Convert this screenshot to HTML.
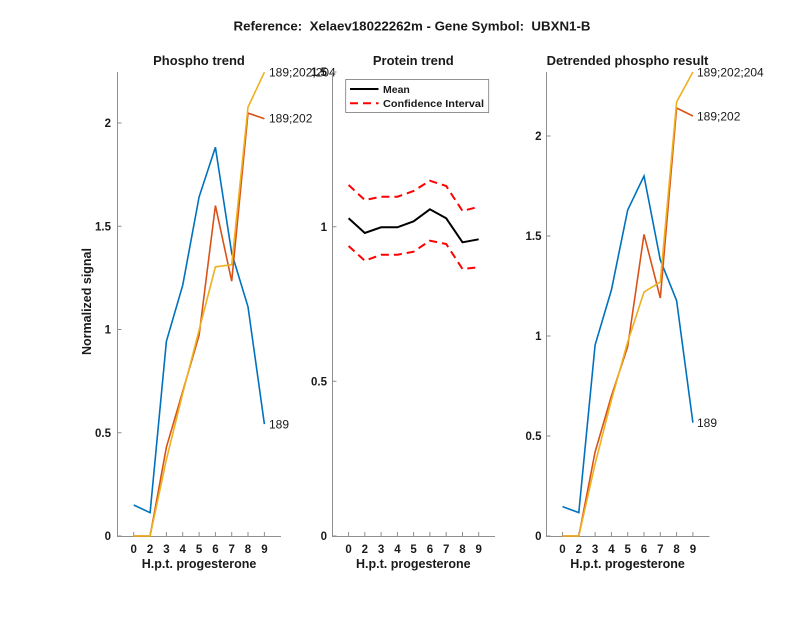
<!DOCTYPE html>
<html><head><meta charset="utf-8"><style>
html,body{margin:0;padding:0;background:#fff;}
svg{display:block;}
text{font-family:"Liberation Sans",Arial,sans-serif;fill:#1a1a1a;}
.b{font-weight:bold;}
.tk{font-size:11.5px;font-weight:bold;}
.ax{stroke:#8f8f8f;stroke-width:1;fill:none;}
.s{fill:none;stroke-width:1.6;stroke-linejoin:miter;}
.lb{font-size:12px;}
</style></head><body>
<svg width="800" height="618" viewBox="0 0 800 618" xmlns="http://www.w3.org/2000/svg">
<rect width="800" height="618" fill="#fff"/>
<text x="412" y="30.5" text-anchor="middle" class="b" font-size="13" xml:space="preserve" textLength="357" lengthAdjust="spacingAndGlyphs">Reference:  Xelaev18022262m - Gene Symbol:  UBXN1-B</text>

<!-- Panel 1 -->
<text x="199" y="65" text-anchor="middle" class="b" font-size="13">Phospho trend</text>
<path class="ax" d="M117.5,72 V536.5 H281"/>
<g class="ax">
<path d="M117.5,536 h4 M117.5,432.8 h4 M117.5,329.5 h4 M117.5,226.3 h4 M117.5,123 h4"/>
<path d="M133.7,536 v-4 M150.1,536 v-4 M166.4,536 v-4 M182.7,536 v-4 M199.1,536 v-4 M215.4,536 v-4 M231.7,536 v-4 M248,536 v-4 M264.4,536 v-4"/>
</g>
<g class="tk" text-anchor="end">
<text x="111" y="540">0</text><text x="111" y="437">0.5</text><text x="111" y="333.5">1</text><text x="111" y="230.5">1.5</text><text x="111" y="127">2</text>
</g>
<g class="tk" text-anchor="middle">
<text x="133.7" y="553">0</text><text x="150.1" y="553">2</text><text x="166.4" y="553">3</text><text x="182.7" y="553">4</text><text x="199.1" y="553">5</text><text x="215.4" y="553">6</text><text x="231.7" y="553">7</text><text x="248" y="553">8</text><text x="264.4" y="553">9</text>
</g>
<text x="199" y="568" text-anchor="middle" class="b" font-size="12.5">H.p.t. progesterone</text>
<text transform="translate(91,301.5) rotate(-90)" text-anchor="middle" class="b" font-size="12.5">Normalized signal</text>
<polyline class="s" stroke="#0072BD" points="133.7,505 150.1,512.7 166.4,341.3 182.7,285.3 199.1,196.9 215.4,147.2 231.7,253.1 248,306.8 264.4,424.1"/>
<polyline class="s" stroke="#D95319" points="133.7,536 150.1,536 166.4,447.2 182.7,391.5 199.1,335.3 215.4,205.6 231.7,281.2 248,113.1 264.4,118.7"/>
<polyline class="s" stroke="#EDB120" points="133.7,536 150.1,536 166.4,459.6 182.7,393.5 199.1,330.1 215.4,266.9 231.7,264.7 248,107.1 264.4,72.2"/>
<text class="lb" x="269" y="76.5">189;202;204</text>
<text class="lb" x="269" y="122.5">189;202</text>
<text class="lb" x="269" y="428.5">189</text>

<!-- Panel 2 -->
<text x="413.3" y="65" text-anchor="middle" class="b" font-size="13">Protein trend</text>
<path class="ax" d="M332.5,72 V536.5 H495"/>
<g class="ax">
<path d="M332.5,536 h4 M332.5,381.3 h4 M332.5,226.7 h4 M332.5,72 h4"/>
<path d="M348.6,536 v-4 M364.8,536 v-4 M381.1,536 v-4 M397.4,536 v-4 M413.6,536 v-4 M429.9,536 v-4 M446.2,536 v-4 M462.5,536 v-4 M478.7,536 v-4"/>
</g>
<g class="tk" text-anchor="end">
<text x="327" y="540">0</text><text x="327" y="385.5">0.5</text><text x="327" y="231">1</text><text x="327" y="76">1.5</text>
</g>
<g class="tk" text-anchor="middle">
<text x="348.6" y="553">0</text><text x="364.8" y="553">2</text><text x="381.1" y="553">3</text><text x="397.4" y="553">4</text><text x="413.6" y="553">5</text><text x="429.9" y="553">6</text><text x="446.2" y="553">7</text><text x="462.5" y="553">8</text><text x="478.7" y="553">9</text>
</g>
<text x="413.3" y="568" text-anchor="middle" class="b" font-size="12.5">H.p.t. progesterone</text>
<polyline fill="none" stroke="#ff0000" stroke-width="2" stroke-dasharray="8,5" points="348.6,185 364.8,200 381.1,196.7 397.4,196.7 413.6,191 429.9,180.7 446.2,186 462.5,211 478.7,206.7"/>
<polyline fill="none" stroke="#ff0000" stroke-width="2" stroke-dasharray="8,5" points="348.6,246 364.8,260.7 381.1,254.7 397.4,254.7 413.6,251.7 429.9,240.7 446.2,244 462.5,269 478.7,267.3"/>
<polyline fill="none" stroke="#000" stroke-width="2" points="348.6,218.3 364.8,233 381.1,227.3 397.4,227.3 413.6,221.3 429.9,209.3 446.2,218.3 462.5,242.3 478.7,239.3"/>
<rect x="345.7" y="79.5" width="143" height="33" fill="#fff" stroke="#777" stroke-width="0.8"/>
<line x1="350" y1="89" x2="378.5" y2="89" stroke="#000" stroke-width="2"/>
<line x1="350" y1="103.3" x2="378.5" y2="103.3" stroke="#ff0000" stroke-width="2" stroke-dasharray="8,5"/>
<text x="383" y="92.8" class="b" font-size="10.5">Mean</text>
<text x="383" y="107.2" class="b" font-size="10.5" textLength="101" lengthAdjust="spacingAndGlyphs">Confidence Interval</text>

<!-- Panel 3 -->
<text x="627.5" y="65" text-anchor="middle" class="b" font-size="13">Detrended phospho result</text>
<path class="ax" d="M546.5,72 V536.5 H709.5"/>
<g class="ax">
<path d="M546.5,536 h4 M546.5,436 h4 M546.5,336 h4 M546.5,236 h4 M546.5,136 h4"/>
<path d="M562.5,536 v-4 M578.8,536 v-4 M595.1,536 v-4 M611.4,536 v-4 M627.7,536 v-4 M644,536 v-4 M660.3,536 v-4 M676.6,536 v-4 M692.9,536 v-4"/>
</g>
<g class="tk" text-anchor="end">
<text x="541.5" y="540">0</text><text x="541.5" y="440">0.5</text><text x="541.5" y="340">1</text><text x="541.5" y="240">1.5</text><text x="541.5" y="140">2</text>
</g>
<g class="tk" text-anchor="middle">
<text x="562.5" y="553">0</text><text x="578.8" y="553">2</text><text x="595.1" y="553">3</text><text x="611.4" y="553">4</text><text x="627.7" y="553">5</text><text x="644" y="553">6</text><text x="660.3" y="553">7</text><text x="676.6" y="553">8</text><text x="692.9" y="553">9</text>
</g>
<text x="627.5" y="568" text-anchor="middle" class="b" font-size="12.5">H.p.t. progesterone</text>
<polyline class="s" stroke="#0072BD" points="562.5,506.6 578.8,512.6 595.1,345 611.4,290 627.7,210 644,176 660.3,260 676.6,300.6 692.9,422.6"/>
<polyline class="s" stroke="#D95319" points="562.5,536 578.8,536 595.1,452 611.4,396 627.7,346.6 644,234.4 660.3,298 676.6,108 692.9,116"/>
<polyline class="s" stroke="#EDB120" points="562.5,536 578.8,536 595.1,464 611.4,400 627.7,342 644,292 660.3,282 676.6,102 692.9,72"/>
<text class="lb" x="697" y="76.5">189;202;204</text>
<text class="lb" x="697" y="120.5">189;202</text>
<text class="lb" x="697" y="427">189</text>
</svg>
</body></html>
